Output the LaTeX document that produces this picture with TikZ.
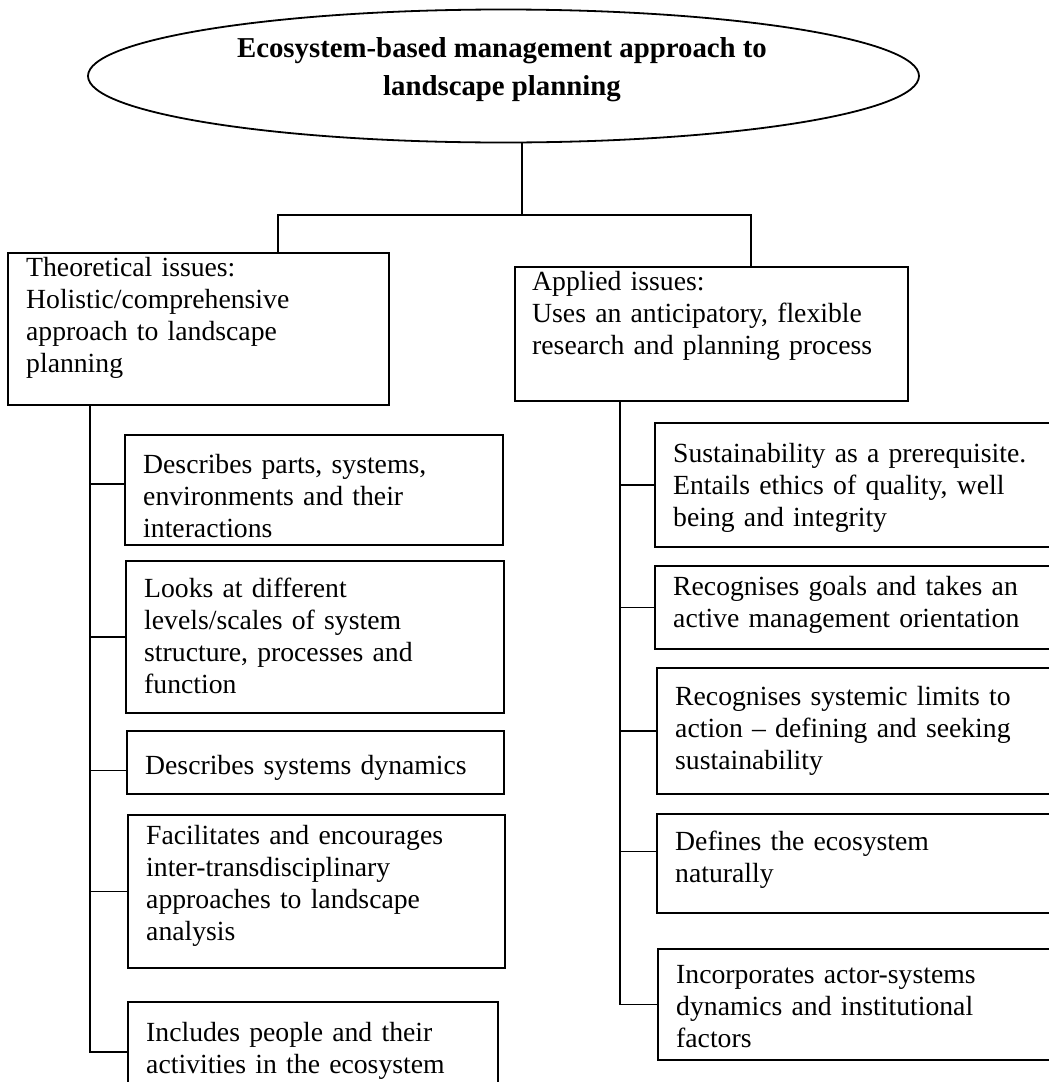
\documentclass[tikz,border=0pt]{standalone}
\usepackage{fontspec}
\setmainfont{Liberation Serif}
\usetikzlibrary{shapes.geometric}
\begin{document}
\begin{tikzpicture}[x=1pt,y=-1pt,
  frame/.style={draw, line width=1.8pt, rectangle, inner sep=0pt, anchor=north west},
  txt/.style={anchor=base west, inner sep=0pt, text width=420pt, align=left,
    font=\fontsize{27.7}{32}\selectfont},
  ttl/.style={anchor=base, inner sep=0pt, font=\bfseries\fontsize{28.8}{38}\selectfont},
  link/.style={line width=1.8pt}]
\useasboundingbox (0,0) rectangle (1049,1082);
\clip (0,0) rectangle (1049,1082);

% title
\node[draw, ellipse, line width=1.8pt, minimum width=831pt, minimum height=133pt, inner sep=0pt] (title) at (503.5,76) {};
\node[ttl] (title1) at (502,57) {Ecosystem-based management approach to};
\node[ttl] (title2) at (502,95) {landscape planning};

% branch coordinates
\coordinate (barM) at (522,215);
\coordinate (barL) at (278,215);
\coordinate (barR) at (751,215);
\coordinate (tL) at (90,0);
\coordinate (tR) at (620,0);

% main boxes
\node[frame, minimum width=381pt, minimum height=152pt] (L0) at (7,252) {};
\node[txt] (L0t) at (26,276) {Theoretical issues:\\Holistic/comprehensive\\approach to landscape\\planning};
\node[frame, minimum width=393pt, minimum height=134pt] (R0) at (514,266) {};
\node[txt] (R0t) at (532,290) {Applied issues:\\Uses an anticipatory, flexible\\research and planning process};

% theoretical items
\node[frame, minimum width=378pt, minimum height=110pt] (L1) at (124,434) {};
\node[txt] (L1t) at (143,473) {Describes parts, systems,\\environments and their\\interactions};
\node[frame, minimum width=378pt, minimum height=152pt] (L2) at (125,560) {};
\node[txt] (L2t) at (144,597) {Looks at different\\levels/scales of system\\structure, processes and\\function};
\node[frame, minimum width=377pt, minimum height=63pt] (L3) at (126,730) {};
\node[txt] (L3t) at (145,774) {Describes systems dynamics};
\node[frame, minimum width=377pt, minimum height=153pt] (L4) at (127,814) {};
\node[txt] (L4t) at (146,844) {Facilitates and encourages\\inter-transdisciplinary\\approaches to landscape\\analysis};
\node[frame, minimum width=370pt, minimum height=100pt] (L5) at (127,1001) {};
\node[txt] (L5t) at (146,1041) {Includes people and their\\activities in the ecosystem};

% applied items
\node[frame, minimum width=420pt, minimum height=124pt] (R1) at (654,422) {};
\node[txt] (R1t) at (673,462) {Sustainability as a prerequisite.\\Entails ethics of quality, well\\being and integrity};
\node[frame, minimum width=420pt, minimum height=83pt] (R2) at (654,565) {};
\node[txt] (R2t) at (673,595) {Recognises goals and takes an\\active management orientation};
\node[frame, minimum width=420pt, minimum height=126pt] (R3) at (656,667) {};
\node[txt] (R3t) at (675,705) {Recognises systemic limits to\\action -- defining and seeking\\sustainability};
\node[frame, minimum width=420pt, minimum height=99pt] (R4) at (656,813) {};
\node[txt] (R4t) at (675,850) {Defines the ecosystem\\naturally};
\node[frame, minimum width=420pt, minimum height=111pt] (R5) at (657,948) {};
\node[txt] (R5t) at (676,983) {Incorporates actor-systems\\dynamics and institutional\\factors};

% connectors
\draw[link] (title.south -| barM) -- (barM);
\draw[link] (L0.north -| barL) |- (barR) -- (R0.north -| barR);

\draw[link] (L0.south -| tL) |- (L5.west);
\draw[link] ([yshift=6pt]L1.west -| tL) -- ([yshift=6pt]L1.west);
\draw[link] (L2.west -| tL) -- (L2.west);
\draw[link] ([yshift=-8pt]L3.west -| tL) -- ([yshift=-8pt]L3.west);
\draw[link] (L4.west -| tL) -- (L4.west);

\draw[link] (R0.south -| tR) |- (R5.west);
\draw[link] (R1.west -| tR) -- (R1.west);
\draw[link] (R2.west -| tR) -- (R2.west);
\draw[link] (R3.west -| tR) -- (R3.west);
\draw[link] ([yshift=12pt]R4.west -| tR) -- ([yshift=12pt]R4.west);
\end{tikzpicture}
\end{document}
